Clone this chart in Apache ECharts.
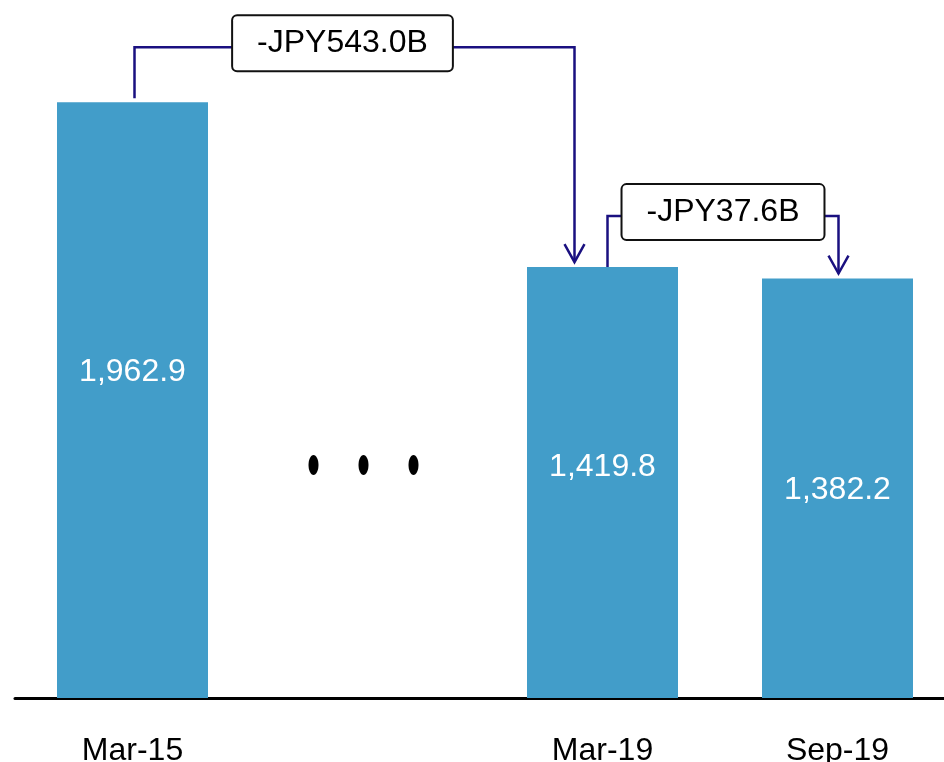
<!DOCTYPE html>
<html>
<head>
<meta charset="utf-8">
<script src="https://cdn.jsdelivr.net/npm/echarts@6/dist/echarts.min.js"></script>
<style>
  html, body { margin: 0; padding: 0; background: #fff; }
  #chart { width: 944px; height: 762px; }
</style>
</head>
<body>
<div id="chart"></div>
<script>
// Balance at each period end (JPY billions); the empty slot is the elided gap.
const categories = ['Mar-15', '', 'Mar-19', 'Sep-19'];
const balances = [1962.9, null, 1419.8, 1382.2];

// Change annotations between two periods.
const changeFrom = [0, 2];
const changeTo = [2, 3];
const changeLabels = ['-JPY543.0B', '-JPY37.6B'];

// Index of the category holding the "more periods" dots.
const gapIndex = 1;

const FONT = '"Liberation Sans", Arial, sans-serif';
const BAR_COLOR = '#429dc9';
const LINK_COLOR = '#1a1080';

// Pixel tweaks for each bracket connector.
const bracketLayout = [
  { startDx: 2, startGap: 4, endDx: -28, rise: 55, boxDx: -12 },
  { startDx: 5, startGap: 0, endDx: 1, rise: 51, boxDx: 0 }
];
// Per-bar label nudges (pixels).
const labelNudge = [-28, 0, -15, 2];

const chart = echarts.init(document.getElementById('chart'), null, { renderer: 'canvas' });

const fmt = v => v.toLocaleString('en-US', { minimumFractionDigits: 1, maximumFractionDigits: 1 });

const barData = balances.map((v, i) => ({
  value: v,
  label: { offset: [0, labelNudge[i]] }
}));

function renderBracket(params, api) {
  const i = params.dataIndex;
  const f = changeFrom[i], t = changeTo[i];
  const L = bracketLayout[i];
  const pFrom = api.coord([f, balances[f]]);
  const pTo = api.coord([t, balances[t]]);
  const lineY = Math.min(pFrom[1], pTo[1]) - L.rise;
  const sx = pFrom[0] + L.startDx;
  const sy = pFrom[1] - L.startGap;
  const ex = pTo[0] + L.endDx;
  const tipY = pTo[1] - 5;
  const midX = (sx + ex) / 2 + L.boxDx;
  return {
    type: 'group',
    children: [
      {
        type: 'polyline',
        shape: { points: [[sx, sy], [sx, lineY], [ex, lineY], [ex, tipY]] },
        style: { stroke: LINK_COLOR, lineWidth: 2.5, fill: null }
      },
      {
        type: 'polyline',
        shape: { points: [[ex - 10, tipY - 18], [ex, tipY], [ex + 10, tipY - 18]] },
        style: { stroke: LINK_COLOR, lineWidth: 2.5, fill: null }
      },
      {
        type: 'text',
        style: {
          text: changeLabels[i],
          x: midX,
          y: lineY - 4,
          align: 'center',
          verticalAlign: 'middle',
          font: '32px ' + FONT,
          fill: '#000',
          backgroundColor: '#fff',
          borderColor: '#111',
          borderWidth: 2,
          borderRadius: 4,
          padding: [11, 24, 11, 24]
        }
      }
    ]
  };
}

function renderGapDots(params, api) {
  const base = api.coord([gapIndex, 0]);
  const cy = base[1] - 233;
  return {
    type: 'group',
    children: [-50, 0, 50].map(dx => ({
      type: 'ellipse',
      shape: { cx: base[0] - 4 + dx, cy: cy, rx: 5, ry: 10 },
      style: { fill: '#000' }
    }))
  };
}

chart.setOption({
  animation: false,
  backgroundColor: '#fff',
  grid: {
    left: 15, top: 0, width: 940, bottom: 64,
    containLabel: false,
    outerBoundsMode: 'none'
  },
  xAxis: {
    type: 'category',
    data: categories,
    axisTick: { show: false },
    axisLine: { lineStyle: { color: '#000', width: 3 } },
    axisLabel: { color: '#000', fontSize: 32, fontFamily: FONT, margin: 37, interval: 0 },
    splitLine: { show: false }
  },
  yAxis: {
    type: 'value',
    min: 0,
    max: 2300,
    show: false,
    splitLine: { show: false }
  },
  series: [
    {
      type: 'bar',
      data: barData,
      barWidth: 151,
      itemStyle: { color: BAR_COLOR },
      label: {
        show: true,
        position: 'inside',
        color: '#fff',
        fontSize: 32,
        fontFamily: FONT,
        formatter: p => (p.value == null ? '' : fmt(p.value))
      },
      z: 2
    },
    {
      type: 'custom',
      renderItem: renderBracket,
      clip: false,
      data: changeFrom.map(f => [f, balances[f]]),
      z: 5,
      silent: true
    },
    {
      type: 'custom',
      renderItem: renderGapDots,
      clip: false,
      data: [[gapIndex, 0]],
      z: 5,
      silent: true
    }
  ]
});
</script>
</body>
</html>
